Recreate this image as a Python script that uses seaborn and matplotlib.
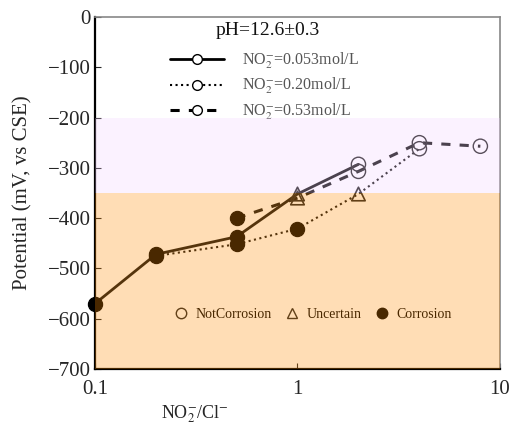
import pandas as pd
import matplotlib.pyplot as plt
import seaborn as sns
import numpy as np
from matplotlib.lines import Line2D

# data
ratio_053 = [0.1, 0.2, 0.5, 1.0, 2.0]
pot_053 = [-570, -472, -437, -352, -293]
state_053 = ['Corrosion', 'Corrosion', 'Corrosion', 'Uncertain', 'NotCorrosion']

ratio_020 = [0.2, 0.5, 1.0, 2.0, 4.0]
pot_020 = [-475, -452, -421, -352, -262]
state_020 = ['Corrosion', 'Corrosion', 'Corrosion', 'Uncertain', 'NotCorrosion']

ratio_053b = [0.5, 1.0, 2.0, 4.0, 8.0]
pot_053b = [-400, -360, -307, -250, -257]
state_053b = ['Corrosion', 'Uncertain', 'NotCorrosion', 'NotCorrosion', 'NotCorrosion']

conc_labels = [r'NO$_2^{-}$=0.053mol/L', r'NO$_2^{-}$=0.20mol/L', r'NO$_2^{-}$=0.53mol/L']

df = pd.concat([
    pd.DataFrame({'ratio': ratio_053, 'pot': pot_053, 'state': state_053, 'conc': conc_labels[0]}),
    pd.DataFrame({'ratio': ratio_020, 'pot': pot_020, 'state': state_020, 'conc': conc_labels[1]}),
    pd.DataFrame({'ratio': ratio_053b, 'pot': pot_053b, 'state': state_053b, 'conc': conc_labels[2]}),
], ignore_index=True)

sns.set_style('ticks')
plt.rcParams['font.family'] = ['Liberation Serif', 'DejaVu Serif']
plt.rcParams['mathtext.fontset'] = 'stix'

fig = plt.figure(figsize=(5.2, 4.25), dpi=100)
ax = fig.add_axes([0.1827, 0.1318, 0.7788, 0.8282])

styles = {conc_labels[0]: '-', conc_labels[1]: ':', conc_labels[2]: (0, (3, 3))}
widths = {conc_labels[0]: 2.0, conc_labels[1]: 1.5, conc_labels[2]: 2.2}
for c in conc_labels:
    sub = df[df['conc'] == c]
    sns.lineplot(data=sub, x='ratio', y='pot', ax=ax, color='#111111',
                 linestyle=styles[c], linewidth=widths[c], sort=False,
                 estimator=None, legend=False, zorder=2)

# markers by state
sub = df[df['state'] == 'Corrosion']
sns.scatterplot(data=sub, x='ratio', y='pot', ax=ax, marker='o', s=105,
                color='black', edgecolor='black', legend=False, zorder=3, clip_on=False)
sub = df[df['state'] == 'Uncertain']
sns.scatterplot(data=sub, x='ratio', y='pot', ax=ax, marker='^', s=95,
                facecolor='none', edgecolor='#222222', linewidth=1.2, legend=False, zorder=3)
sub = df[df['state'] == 'NotCorrosion']
sns.scatterplot(data=sub, x='ratio', y='pot', ax=ax, marker='o', s=105,
                facecolor='none', edgecolor='#222222', linewidth=1.0, legend=False, zorder=3)

# translucent bands drawn over the data
ax.axhspan(-350, -200, color='#f3cfff', alpha=0.26, lw=0, zorder=6)
ax.axhspan(-700, -350, color='#ff8a00', alpha=0.29, lw=0, zorder=6)

ax.set_xscale('log')
ax.set_xlim(0.1, 10)
ax.set_ylim(-700, 0)
ax.set_xticks([0.1, 1, 10])
ax.set_xticklabels(['0.1', '1', '10'])
ax.minorticks_off()
ax.set_yticks(np.arange(-700, 1, 100))
ax.set_yticklabels([str(v).replace('-', '\u2212') for v in range(-700, 1, 100)])
ax.tick_params(direction='in', labelsize=15, length=4, width=0.8, pad=3)
ax.tick_params(axis='x', pad=8)

for s in ['left', 'bottom']:
    ax.spines[s].set_color('black')
    ax.spines[s].set_linewidth(1.6)
for s in ['top', 'right']:
    ax.spines[s].set_color('#888888')
    ax.spines[s].set_linewidth(1.2)

ax.set_ylabel('Potential (mV, vs CSE)', fontsize=15)
ax.yaxis.set_label_coords(-0.155, 0.5)
ax.set_xlabel(r'NO$_2^{-}$/Cl$^{-}$', fontsize=13)
ax.xaxis.set_label_coords(0.247, -0.098)

ax.text(0.427, 0.962, 'pH=12.6\u00b10.3', transform=ax.transAxes, ha='center',
        va='center', fontsize=14, color='#111111')

handles1 = [Line2D([], [], color='black', linestyle=styles[c], linewidth=widths[c],
                   marker='o', markersize=7, markerfacecolor='white',
                   markeredgecolor='black') for c in conc_labels]
leg1 = ax.legend(handles1, conc_labels, loc='upper left', bbox_to_anchor=(0.185, 0.905),
                 frameon=False, fontsize=11.5, handlelength=3.4, handletextpad=1.1,
                 labelspacing=0.35, borderpad=0, borderaxespad=0, labelcolor='#555555')
ax.add_artist(leg1)

handles2 = [Line2D([], [], linestyle='none', marker='o', markersize=7.5,
                   markerfacecolor='none', markeredgecolor='#222222'),
            Line2D([], [], linestyle='none', marker='^', markersize=7.5,
                   markerfacecolor='none', markeredgecolor='#222222'),
            Line2D([], [], linestyle='none', marker='o', markersize=7.5,
                   markerfacecolor='black', markeredgecolor='black')]
leg2 = ax.legend(handles2, ['NotCorrosion', 'Uncertain', 'Corrosion'], loc='center',
                 bbox_to_anchor=(0.534, 0.156), ncol=3, frameon=False, fontsize=10,
                 handletextpad=0.3, columnspacing=0.7, handlelength=1.5, labelcolor='black')
leg2.set_zorder(4)

fig.savefig('out.png', dpi=100)
